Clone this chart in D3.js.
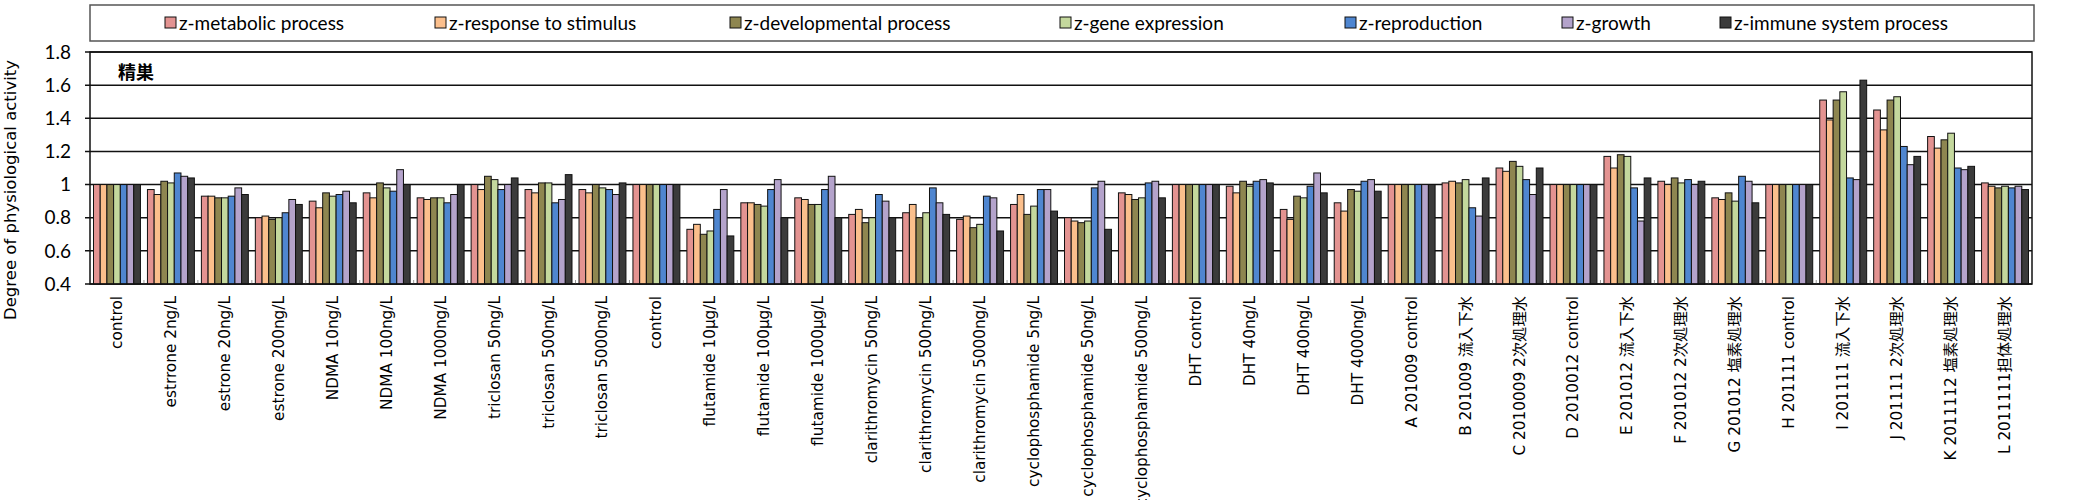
<!DOCTYPE html>
<html lang="ja">
<head>
    <meta charset="UTF-8">
    <title>精巣 - Degree of physiological activity</title>
    <script src="https://d3js.org/d3.v7.min.js"></script>
    <style>
        body { margin: 0; background: #fff; }
        .legend-text { font-family: Lato, "Open Sans", sans-serif; font-size: 19px; fill: #000; }
        .ytick { font-family: Lato, "Open Sans", sans-serif; font-size: 19px; fill: #000; }
        .xlabel { font-family: "DejaVu Sans", "Noto Sans CJK JP", sans-serif; font-size: 15.3px; fill: #000; }
        .ytitle { font-family: "DejaVu Sans", sans-serif; font-size: 16.5px; fill: #000; }
        .panel-title { font-family: "Noto Sans CJK JP", sans-serif; font-size: 18px; font-weight: bold; }
    </style>
</head>
<body>
<svg id="chart" width="2088" height="500"></svg>
<script>
    // categories (x axis)
    const categories = [
        "control", "estrrone 2ng/L", "estrone 20ng/L", "estrone 200ng/L",
        "NDMA 10ng/L", "NDMA 100ng/L", "NDMA 1000ng/L",
        "triclosan 50ng/L", "triclosan 500ng/L", "triclosan 5000ng/L",
        "control", "flutamide 10µg/L", "flutamide 100µg/L", "flutamide 1000µg/L",
        "clarithromycin 50ng/L", "clarithromycin 500ng/L", "clarithromycin 5000ng/L",
        "cyclophosphamide 5ng/L", "cyclophosphamide 50ng/L", "cyclophosphamide 500ng/L",
        "DHT control", "DHT 40ng/L", "DHT 400ng/L", "DHT 4000ng/L",
        "A 201009 control", "B 201009 流入下水", "C 2010009 2次処理水",
        "D 2010012 control", "E 201012 流入下水", "F 201012 2次処理水", "G 201012 塩素処理水",
        "H 201111 control", "I 201111 流入下水", "J 201111 2次処理水",
        "K 2011112 塩素処理水", "L 2011111担体処理水"
    ];

    // series values
    const metabolic = [1.0, 0.97, 0.93, 0.80, 0.90, 0.95, 0.92, 1.0, 0.97, 0.97, 1.0, 0.73, 0.89, 0.92, 0.82, 0.83, 0.79, 0.88, 0.80, 0.95, 1.0, 0.99, 0.85, 0.89, 1.0, 1.01, 1.10, 1.0, 1.17, 1.02, 0.92, 1.0, 1.51, 1.45, 1.29, 1.01];
    const response = [1.0, 0.94, 0.93, 0.81, 0.86, 0.92, 0.91, 0.97, 0.95, 0.95, 1.0, 0.76, 0.89, 0.91, 0.85, 0.88, 0.81, 0.94, 0.78, 0.94, 1.0, 0.95, 0.79, 0.84, 1.0, 1.02, 1.08, 1.0, 1.10, 1.0, 0.91, 1.0, 1.39, 1.33, 1.22, 0.99];
    const developmental = [1.0, 1.02, 0.92, 0.79, 0.95, 1.01, 0.92, 1.05, 1.01, 1.0, 1.0, 0.70, 0.88, 0.88, 0.77, 0.80, 0.74, 0.82, 0.77, 0.91, 1.0, 1.02, 0.93, 0.97, 1.0, 1.01, 1.14, 1.0, 1.18, 1.04, 0.95, 1.0, 1.51, 1.51, 1.27, 0.98];
    const geneExpression = [1.0, 1.01, 0.92, 0.80, 0.93, 0.98, 0.92, 1.03, 1.01, 0.98, 1.0, 0.72, 0.87, 0.88, 0.80, 0.83, 0.76, 0.87, 0.78, 0.92, 1.0, 0.99, 0.92, 0.96, 1.0, 1.03, 1.11, 1.0, 1.17, 1.01, 0.90, 1.0, 1.56, 1.53, 1.31, 0.99];
    const reproduction = [1.0, 1.07, 0.93, 0.83, 0.94, 0.96, 0.89, 0.97, 0.89, 0.97, 1.0, 0.85, 0.97, 0.97, 0.94, 0.98, 0.93, 0.97, 0.98, 1.01, 1.0, 1.02, 0.99, 1.02, 1.0, 0.86, 1.03, 1.0, 0.98, 1.03, 1.05, 1.0, 1.04, 1.23, 1.10, 0.98];
    const growth = [1.0, 1.05, 0.98, 0.91, 0.96, 1.09, 0.94, 1.0, 0.91, 0.94, 1.0, 0.97, 1.03, 1.05, 0.90, 0.89, 0.92, 0.97, 1.02, 1.02, 1.0, 1.03, 1.07, 1.03, 1.0, 0.81, 0.94, 1.0, 0.78, 1.0, 1.02, 1.0, 1.03, 1.12, 1.09, 0.99];
    const immune = [1.0, 1.04, 0.94, 0.88, 0.89, 1.0, 1.0, 1.04, 1.06, 1.01, 1.0, 0.69, 0.80, 0.80, 0.80, 0.82, 0.72, 0.84, 0.73, 0.92, 1.0, 1.01, 0.95, 0.96, 1.0, 1.04, 1.10, 1.0, 1.04, 1.02, 0.89, 1.0, 1.63, 1.17, 1.11, 0.97];

    const seriesNames = ["z-metabolic process", "z-response to stimulus", "z-developmental process",
        "z-gene expression", "z-reproduction", "z-growth", "z-immune system process"];
    const seriesValues = [metabolic, response, developmental, geneExpression, reproduction, growth, immune];
    const colors = ["#e39391", "#fbbf8c", "#8e8650", "#c4d89d", "#4f86d0", "#b4a3cb", "#3b3b3b"];
    const yTicks = [0.4, 0.6, 0.8, 1.0, 1.2, 1.4, 1.6, 1.8];

    // plot area
    const plotLeft = 90, plotRight = 2032, plotTop = 52, plotBottom = 284;

    const svg = d3.select("#chart");

    const x = d3.scaleBand()
        .domain(d3.range(categories.length))
        .range([plotLeft, plotRight])
        .paddingInner(0.13)
        .paddingOuter(0.065);

    const xs = d3.scaleBand()
        .domain(d3.range(seriesNames.length))
        .range([0, x.bandwidth()]);

    const y = d3.scaleLinear()
        .domain([0.4, 1.8])
        .range([plotBottom, plotTop]);

    // gridlines
    svg.append("g")
        .selectAll("line")
        .data(yTicks)
        .enter()
        .append("line")
        .attr("x1", plotLeft - 5)
        .attr("x2", plotRight)
        .attr("y1", d => y(d))
        .attr("y2", d => y(d))
        .attr("stroke", "#111")
        .attr("stroke-width", 1.5);

    // y tick labels (Excel style: 1 instead of 1.0)
    svg.append("g")
        .selectAll("text")
        .data(yTicks)
        .enter()
        .append("text")
        .attr("class", "ytick")
        .attr("x", plotLeft - 19)
        .attr("y", d => y(d))
        .attr("dy", "0.35em")
        .attr("text-anchor", "end")
        .text(d => d === 1 ? "1" : d3.format(".1f")(d));

    // bars
    const groups = svg.append("g")
        .selectAll("g")
        .data(categories.map((c, i) => i))
        .enter()
        .append("g")
        .attr("transform", i => `translate(${x(i)},0)`);

    groups.selectAll("rect")
        .data(i => seriesValues.map((vals, s) => ({ s: s, v: vals[i] })))
        .enter()
        .append("rect")
        .attr("x", d => xs(d.s))
        .attr("width", xs.bandwidth())
        .attr("y", d => y(d.v))
        .attr("height", d => y(0.4) - y(d.v))
        .attr("fill", d => colors[d.s])
        .attr("stroke", "#111")
        .attr("stroke-width", 1);

    // small category ticks on the bottom axis
    svg.append("g")
        .selectAll("line")
        .data(d3.range(1, categories.length))
        .enter()
        .append("line")
        .attr("x1", i => x(i) - x.step() * x.paddingInner() / 2)
        .attr("x2", i => x(i) - x.step() * x.paddingInner() / 2)
        .attr("y1", plotBottom)
        .attr("y2", plotBottom - 4)
        .attr("stroke", "#999")
        .attr("stroke-width", 1);

    // plot border
    svg.append("rect")
        .attr("x", plotLeft)
        .attr("y", plotTop)
        .attr("width", plotRight - plotLeft)
        .attr("height", plotBottom - plotTop)
        .attr("fill", "none")
        .attr("stroke", "#111")
        .attr("stroke-width", 1.5);

    // panel title
    svg.append("text")
        .attr("class", "panel-title")
        .attr("x", 118)
        .attr("y", 79)
        .text("精巣");

    // x labels, rotated
    svg.append("g")
        .selectAll("text")
        .data(categories)
        .enter()
        .append("text")
        .attr("class", "xlabel")
        .attr("text-anchor", "end")
        .attr("transform", (d, i) => `translate(${x(i) + x.bandwidth() / 2 + 5},296) rotate(-90)`)
        .text(d => d);

    // y axis title
    svg.append("text")
        .attr("class", "ytitle")
        .attr("text-anchor", "middle")
        .attr("transform", "translate(16,190) rotate(-90)")
        .text("Degree of physiological activity");

    // legend
    svg.append("rect")
        .attr("x", 90)
        .attr("y", 5)
        .attr("width", 1944)
        .attr("height", 36)
        .attr("fill", "#fff")
        .attr("stroke", "#555")
        .attr("stroke-width", 1.5);

    const legendX = [165, 435, 730, 1060, 1345, 1562, 1720];
    const legend = svg.append("g")
        .selectAll("g")
        .data(seriesNames)
        .enter()
        .append("g")
        .attr("transform", (d, i) => `translate(${legendX[i]},23)`);

    legend.append("rect")
        .attr("x", 0)
        .attr("y", -6)
        .attr("width", 11)
        .attr("height", 11)
        .attr("fill", (d, i) => colors[i])
        .attr("stroke", "#111")
        .attr("stroke-width", 1);

    legend.append("text")
        .attr("class", "legend-text")
        .attr("x", 14)
        .attr("y", 0)
        .attr("dy", "0.35em")
        .text(d => d);
</script>
</body>
</html>
